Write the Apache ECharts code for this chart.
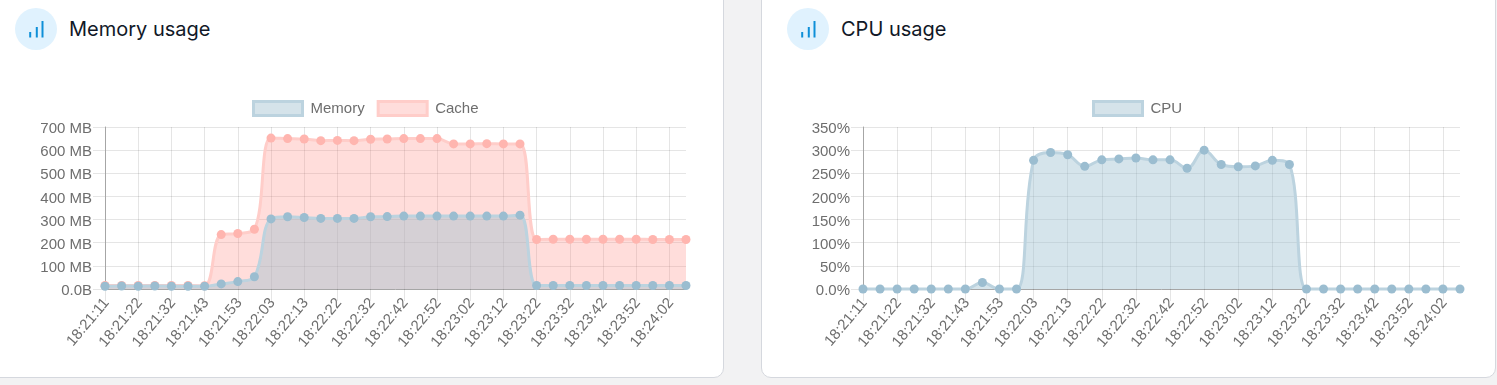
<!DOCTYPE html>
<html>
<head>
<meta charset="utf-8">
<script src="https://cdn.jsdelivr.net/npm/echarts@6/dist/echarts.min.js"></script>
<style>
  html, body { margin: 0; height: 100%; overflow: hidden; background: #f2f2f3; }
  .card { position: absolute; top: -12px; height: 390px; box-sizing: border-box; background: #fff; border: 1px solid #d5d8de; border-radius: 10px; }
  #card1 { left: -12px; width: 736px; }
  #card2 { left: 761px; width: 735px; }
  .icon { position: absolute; top: 19px; width: 42px; height: 42px; }
  .title { position: absolute; top: 27px; font: 400 20px/26px Inter, sans-serif; color: #111827; white-space: nowrap; }
  .chart { position: absolute; top: 90px; height: 290px; }
  #memory { left: 0; width: 723px; }
  #cpu { left: 762px; width: 733px; }
</style>
</head>
<body>
<div class="card" id="card1">
  <svg class="icon" style="left:26px" viewBox="0 0 42 42"><circle cx="21" cy="21" r="21" fill="#e0f2fe"/><path d="M15.200 24v5.500M21.800 19v10.500M27.500 13v16.500" stroke="#0e8fd8" stroke-width="2"/></svg>
  <div class="title" style="left:80px">Memory usage</div>
</div>
<div class="card" id="card2">
  <svg class="icon" style="left:25px" viewBox="0 0 42 42"><circle cx="21" cy="21" r="21" fill="#e0f2fe"/><path d="M15.200 24v5.500M21.800 19v10.500M27.500 13v16.500" stroke="#0e8fd8" stroke-width="2"/></svg>
  <div class="title" style="left:79px">CPU usage</div>
</div>
<div class="chart" id="memory"></div>
<div class="chart" id="cpu"></div>
<script>
const categories = [
  '18:21:11', '18:21:17', '18:21:22', '18:21:27', '18:21:32', '18:21:38', '18:21:43', '18:21:48', '18:21:53',
  '18:21:58', '18:22:03', '18:22:08', '18:22:13', '18:22:17', '18:22:22', '18:22:27', '18:22:32', '18:22:37',
  '18:22:42', '18:22:47', '18:22:52', '18:22:57', '18:23:02', '18:23:07', '18:23:12', '18:23:17', '18:23:22',
  '18:23:27', '18:23:32', '18:23:37', '18:23:42', '18:23:47', '18:23:52', '18:23:57', '18:24:02', '18:24:07'
]
const memoryValues = [
  12, 13, 12, 13, 12, 12, 12, 22, 32, 53, 303, 312, 309, 305, 305, 305, 312, 313,
  315, 315, 315, 315, 315, 315, 315, 319, 15, 15, 15, 15, 15, 15, 15, 15, 15, 15
]
const cacheValues = [
  15, 15, 15, 15, 15, 15, 14, 235, 240, 258, 652, 650, 648, 641, 642, 641, 647, 648,
  650, 650, 650, 627, 627, 628, 627, 627, 214, 215, 215, 215, 215, 215, 215, 214, 214, 214
]
const cpuValues = [
  0, 0, 0, 0, 0, 0, 0, 14, 0, 0, 278, 295, 290, 265, 279, 281, 283, 279,
  279, 261, 300, 269, 264, 266, 278, 269, 0, 0, 0, 0, 0, 0, 0, 0, 0, 0
]

const blue = { point: '#9bbdd0', line: '#bcd3df', fill: 'rgba(151,187,205,0.4)', box: '#d5e3ea' }
const pink = { point: '#ffb5af', line: '#ffcdc9', fill: 'rgba(255,120,110,0.25)', box: '#ffdddb' }
const textColor = '#6e6e6e'
const gridColor = 'rgba(0,0,0,0.1)'
const fontFamily = '"Liberation Sans", Arial, sans-serif'
// rich style, only used to nudge the tick text a bit off the tick
const nudged = { color: textColor, fontSize: 15, fontFamily, padding: [4, 0, 0, 0] }

function makeSeries(name, data, c, z) {
  return {
    name,
    data,
    z,
    type: 'line',
    smooth: 0.4,
    clip: false,
    symbol: 'circle',
    symbolSize: 9,
    showAllSymbol: true,
    itemStyle: { color: c.point },
    lineStyle: { color: c.line, width: 3 },
    areaStyle: { color: c.fill, opacity: 1, origin: 'start' }
  }
}

function legendItem(name, c) {
  return { name, icon: 'rect', itemStyle: { color: c.box, borderColor: c.line, borderWidth: 3 } }
}

function makeOption(gridLeft, gridWidth, legendLeft, legendData, yMax, yInterval, yFormat, series) {
  return {
    animation: false,
    textStyle: { fontFamily },
    legend: {
      left: legendLeft,
      top: 10,
      padding: 0,
      itemWidth: 49,
      itemHeight: 14,
      itemGap: 12,
      textStyle: { color: textColor, fontSize: 15, fontFamily, padding: [0, 0, 0, 3] },
      data: legendData
    },
    grid: { left: gridLeft, top: 37, width: gridWidth, height: 162 },
    xAxis: {
      type: 'category',
      boundaryGap: false,
      data: categories,
      axisLine: { lineStyle: { color: '#a6a6a6' } },
      axisTick: { interval: 1, length: 12, lineStyle: { color: gridColor } },
      axisLabel: {
        interval: 1,
        rotate: 50,
        margin: 10,
        formatter: v => '{t|' + v + '}',
        rich: { t: nudged }
      },
      splitLine: { show: true, interval: 1, lineStyle: { color: gridColor } }
    },
    yAxis: {
      type: 'value',
      min: 0,
      max: yMax,
      interval: yInterval,
      axisLine: { show: true, lineStyle: { color: '#a6a6a6' } },
      axisTick: { show: true, length: 12, lineStyle: { color: gridColor } },
      axisLabel: {
        margin: 13,
        formatter: v => '{t|' + yFormat(v) + '}',
        rich: { t: nudged }
      },
      splitLine: { show: true, lineStyle: { color: gridColor } }
    },
    series
  }
}

const memoryChart = echarts.init(document.getElementById('memory'))
memoryChart.setOption(makeOption(
  105, 581, 252,
  [legendItem('Memory', blue), legendItem('Cache', pink)],
  700, 100,
  v => (v === 0 ? '0.0B' : v + ' MB'),
  [makeSeries('Memory', memoryValues, blue, 3), makeSeries('Cache', cacheValues, pink, 2)]
))

const cpuChart = echarts.init(document.getElementById('cpu'))
cpuChart.setOption(makeOption(
  101, 597, 330,
  [legendItem('CPU', blue)],
  350, 50,
  v => v.toFixed(v === 0 ? 1 : 0) + '%',
  [makeSeries('CPU', cpuValues, blue, 3)]
))
</script>
</body>
</html>
